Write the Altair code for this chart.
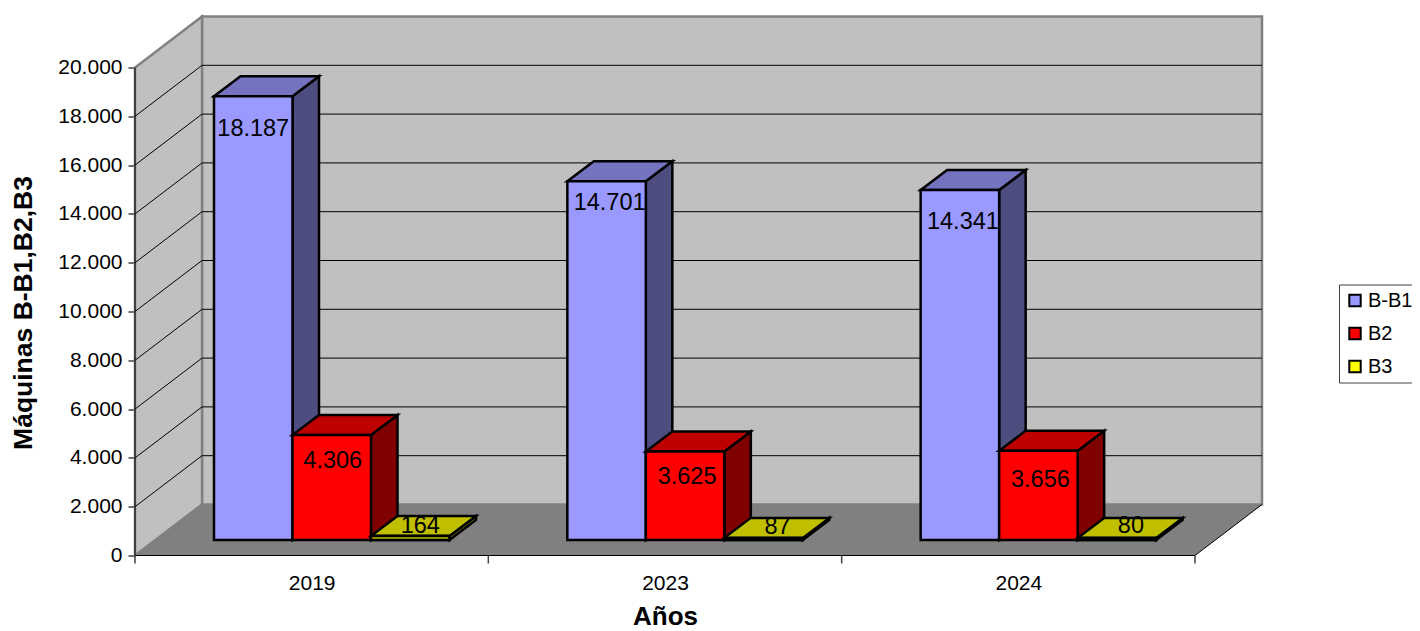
import altair as alt
import pandas as pd

years = ["2019", "2023", "2024"]
series = ["B-B1", "B2", "B3"]
values = {
    "B-B1": [18187, 14701, 14341],
    "B2": [4306, 3625, 3656],
    "B3": [164, 87, 80],
}
front_colors = ["#9999FF", "#FF0000", "#FFFF00"]
top_colors = ["#7373BF", "#BF0000", "#BFBF00"]
side_colors = ["#4D4D80", "#800000", "#808000"]
y_ticks = list(range(0, 20001, 2000))

# label placement relative to the bar's front face, in screen pixels
label_shift = {"B-B1": [0, 3, 3], "B2": [1, 2, 2], "B3": [10, 14, 14]}
label_drop = {"B-B1": [33, 22, 32], "B2": [26, 25.5, 29], "B3": [-10, -11, -12]}

PX_W, PX_H = 1127, 539
CAT_PX = 353.33
VAL_PX = 488 / 20000
X_MAX = PX_W / CAT_PX
Y_MAX = PX_H / VAL_PX
WALL_DX = 67 / CAT_PX
WALL_DY = 51 / VAL_PX
BAR_DX = 26.5 / CAT_PX
BAR_DY = 20 / VAL_PX
BAR_W = 78.5 / CAT_PX
BAR_START = 79 / CAT_PX
BAR_BASE = 15.5 / VAL_PX

x_s = alt.Scale(domain=[0, X_MAX], nice=False, zero=False)
y_s = alt.Scale(domain=[0, Y_MAX], nice=False, zero=False)
color_s = alt.Scale(domain=series, range=front_colors)
X = lambda f="x", **k: alt.X(f"{f}:Q", scale=x_s, axis=None, **k)
Y = lambda f="y", **k: alt.Y(f"{f}:Q", scale=y_s, axis=None, **k)

GRAY = "#808080"
layers = []

# back wall, carries the axes
wall = pd.DataFrame([{"x": WALL_DX, "x2": X_MAX, "y": WALL_DY, "y2": Y_MAX}])
layers.append(alt.Chart(wall).mark_rect(fill="#C0C0C0", stroke=GRAY, strokeWidth=2.5).encode(
    x=alt.X("x:Q", scale=x_s, axis=alt.Axis(
        values=[0.5, 1.5, 2.5], title="Años", grid=False, domain=False, ticks=False,
        labelExpr="datum.value < 1 ? '2019' : datum.value < 2 ? '2023' : '2024'",
        labelFont="Liberation Sans", labelFontSize=21, labelColor="#000000", labelPadding=17,
        labelAngle=0, titleFont="Liberation Sans", titleFontSize=26, titleFontWeight="bold",
        titleColor="#000000", titleAnchor="start", titleAlign="center", titleX=530, titleY=69,
        titleBaseline="alphabetic")),
    x2="x2:Q",
    y=alt.Y("y:Q", scale=y_s, axis=alt.Axis(
        values=y_ticks, title="Máquinas B-B1,B2,B3", grid=False, domain=False,
        tickSize=7, tickColor="#404040", tickWidth=1.5,
        labelExpr="replace(format(datum.value, ',d'), ',', '.')",
        labelFont="Liberation Sans", labelFontSize=21, labelColor="#000000", labelPadding=6,
        titleFont="Liberation Sans", titleFontSize=26.5, titleFontWeight="bold",
        titleColor="#000000", titleAnchor="start", titleAlign="center", titleAngle=-90,
        titleX=-104, titleY=296, titleBaseline="alphabetic")),
    y2="y2:Q",
))

# left wall
left = pd.DataFrame([
    {"x": 0, "y": 0, "y2": 20000},
    {"x": WALL_DX, "y": WALL_DY, "y2": 20000 + WALL_DY},
])
layers.append(alt.Chart(left).mark_area(fill="#C0C0C0", stroke=GRAY, strokeWidth=2.5).encode(
    x=X(), y=Y(), y2="y2:Q"))

# floor
floor = pd.DataFrame([
    {"y": 0, "x": 0, "x2": 3},
    {"y": WALL_DY, "x": WALL_DX, "x2": 3 + WALL_DX},
])
layers.append(alt.Chart(floor).mark_area(orient="horizontal", fill=GRAY).encode(
    y=Y(), x=X(), x2="x2:Q"))

# grid lines on both walls and the floor edges
rows = []
for v in y_ticks[1:-1]:
    rows += [{"k": f"l{v}", "x": 0, "y": v}, {"k": f"l{v}", "x": WALL_DX, "y": v + WALL_DY},
             {"k": f"b{v}", "x": WALL_DX, "y": v + WALL_DY}, {"k": f"b{v}", "x": X_MAX, "y": v + WALL_DY}]
rows += [{"k": "front", "x": 0, "y": 0}, {"k": "front", "x": 3, "y": 0},
         {"k": "right", "x": 3, "y": 0}, {"k": "right", "x": 3 + WALL_DX, "y": WALL_DY},
         {"k": "axis", "x": 0, "y": 0}, {"k": "axis", "x": 0, "y": 20000}]
grid = pd.DataFrame(rows)
layers.append(alt.Chart(grid).mark_line(color="#000000", strokeWidth=1).encode(
    x=alt.X("x:Q", scale=x_s, axis=None, sort=None), y=Y(), detail="k:N"))

# category ticks
ticks = pd.DataFrame({"x": [0, 1, 2, 3]})
layers.append(alt.Chart(ticks).mark_rule(color="#404040", strokeWidth=1.5).encode(
    x=X(), y=alt.value(PX_H), y2=alt.value(PX_H + 8)))

# the 3D columns
STROKE = dict(stroke="#000000", strokeWidth=2.5, strokeJoin="miter")
labels = []
for s_i, s in enumerate(series):
    front, side, top = [], [], []
    for c_i, y_name in enumerate(years):
        v = values[s][c_i]
        x0 = c_i + BAR_START + s_i * BAR_W
        x1 = x0 + BAR_W
        y_top = BAR_BASE + v
        front.append({"series": s, "x": x0, "x2": x1, "y": BAR_BASE, "y2": y_top})
        side += [
            {"k": y_name, "x": x1, "y": BAR_BASE, "y2": y_top},
            {"k": y_name, "x": x1 + BAR_DX, "y": BAR_BASE + BAR_DY, "y2": y_top + BAR_DY},
        ]
        top += [
            {"k": y_name, "y": y_top, "x": x0, "x2": x1},
            {"k": y_name, "y": y_top + BAR_DY, "x": x0 + BAR_DX, "x2": x1 + BAR_DX},
        ]
        labels.append({
            "x": (x0 + x1) / 2 + label_shift[s][c_i] / CAT_PX,
            "y": y_top - label_drop[s][c_i] / VAL_PX,
            "t": f"{v:,d}".replace(",", "."),
        })
    layers.append(alt.Chart(pd.DataFrame(side)).mark_area(fill=side_colors[s_i], **STROKE).encode(
        x=X(), y=Y(), y2="y2:Q", detail="k:N"))
    layers.append(alt.Chart(pd.DataFrame(top)).mark_area(orient="horizontal", fill=top_colors[s_i], **STROKE).encode(
        y=Y(), x=X(), x2="x2:Q", detail="k:N"))
    layers.append(alt.Chart(pd.DataFrame(front)).mark_rect(**STROKE).encode(
        x=X(), x2="x2:Q", y=Y(), y2="y2:Q",
        color=alt.Color("series:N", scale=color_s, legend=alt.Legend(
            title=None, orient="none", legendX=1204, legendY=268,
            symbolType="square", symbolSize=130, symbolStrokeColor="#000000", symbolStrokeWidth=2,
            labelFont="Liberation Sans", labelFontSize=20, labelColor="#000000",
            labelOffset=3, rowPadding=13, padding=6,
            strokeColor="#404040", fillColor="#FFFFFF", cornerRadius=0)),
    ))
    if s == "B3":
        # the thin front strip reads olive in the picture, the legend stays yellow
        layers.append(alt.Chart(pd.DataFrame(front)).mark_rect(fill=top_colors[s_i], **STROKE).encode(
            x=X(), x2="x2:Q", y=Y(), y2="y2:Q"))

layers.append(alt.Chart(pd.DataFrame(labels)).mark_text(
    font="Liberation Sans", fontSize=23.5, color="#000000", baseline="middle", align="center"
).encode(x=X(), y=Y(), text="t:N"))

chart = alt.layer(*layers).resolve_axis(x="independent", y="independent").properties(
    width=PX_W, height=PX_H,
    autosize=alt.AutoSizeParams(type="none"),
    padding={"left": 127, "top": 8.5, "right": 150, "bottom": 83.5},
).configure_view(stroke=None)

chart.save("out.html", embed_options={"renderer": "svg", "actions": False})
